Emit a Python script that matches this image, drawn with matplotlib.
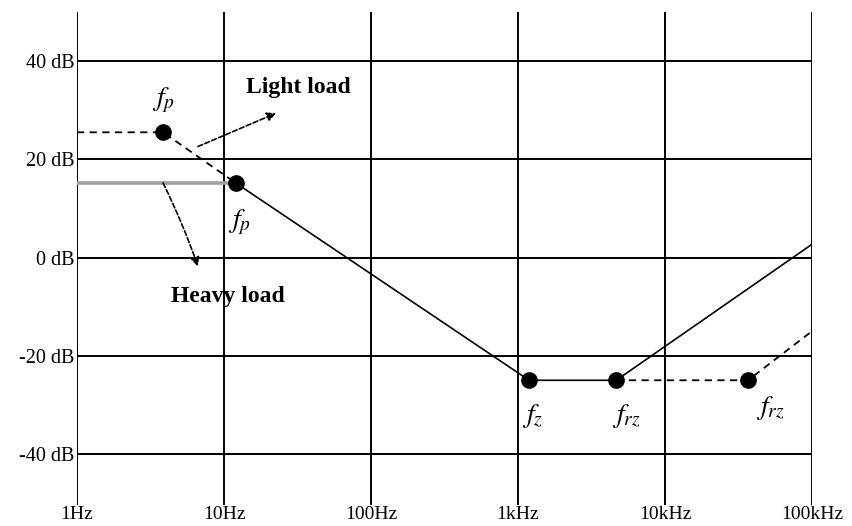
import matplotlib
matplotlib.use("Agg")
import matplotlib.pyplot as plt

plt.rcParams['font.family'] = ['Liberation Serif', 'DejaVu Serif']
plt.rcParams['mathtext.fontset'] = 'stix'

# ---- data ----
x_ticks = [1, 10, 100, 1000, 10000, 100000]
x_labels = ['1Hz', '10Hz', '100Hz', '1kHz', '10kHz', '100kHz']
y_ticks = [40, 20, 0, -20, -40]
y_labels = ['40 dB', '20 dB', '0 dB', '-20 dB', '-40 dB']

light_lf_f = [1, 3.85, 12.0]
light_lf_db = [25.5, 25.5, 15.2]
heavy_flat_f = [1, 12.0]
heavy_flat_db = [15.2, 15.2]
main_f = [12.0, 1190, 4660, 100000]
main_db = [15.2, -25, -25, 2.7]
light_hf_f = [4660, 36700, 100000]
light_hf_db = [-25, -25, -15]
pts_f = [3.85, 12.0, 1190, 4660, 36700]
pts_db = [25.5, 15.2, -25, -25, -25]
pt_labels = [r'$f_p$', r'$f_p$', r'$f_z$', r'$f_{rz}$', r'$f_{rz}$']

fig = plt.figure(figsize=(8.52, 5.26), dpi=100)
ax = fig.add_axes([77/852, 1-505/526, (812-77)/852, (505-12)/526])
ax.set_xscale('log')
ax.set_xlim(1, 100000)
ax.set_ylim(-50.4, 50)

for s in ax.spines.values():
    s.set_visible(False)
ax.set_xticks(x_ticks)
ax.set_xticklabels(x_labels, fontsize=14)
ax.set_yticks(y_ticks)
ax.set_yticklabels(y_labels, fontsize=14.5)
ax.minorticks_off()
ax.tick_params(length=0, pad=2)
ax.tick_params(axis='x', pad=1)
for v in x_ticks:
    ax.axvline(v, color='black', lw=1.4, zorder=1)
for v in y_ticks:
    ax.axhline(v, color='black', lw=1.4, zorder=1)

ax.plot(heavy_flat_f, heavy_flat_db, color='#a0a0a0', lw=2.6, zorder=2)
ax.plot(light_lf_f, light_lf_db, color='black', lw=1.3, ls=(0, (4, 3)), zorder=3)
ax.plot(main_f, main_db, color='black', lw=1.2, zorder=3)
ax.plot(light_hf_f, light_hf_db, color='black', lw=1.3, ls=(0, (4, 3)), zorder=3)
ax.plot(pts_f, pts_db, 'o', color='black', ms=11, zorder=4)

label_pos = [(3.85, 32.0), (12.8, 7.2), (1260, -32.2), (5500, -32.2), (51800, -30.6)]
for (lx, ly), t in zip(label_pos, pt_labels):
    ax.text(lx, ly, t, fontsize=20, ha='center', va='center', zorder=5)

ax.text(31.9, 34.6, 'Light load', fontsize=17, fontweight='bold', ha='center', va='center')
ax.text(10.6, -7.9, 'Heavy load', fontsize=17, fontweight='bold', ha='center', va='center')

ax.annotate('', xy=(22.6, 29.4), xytext=(6.65, 22.6),
            arrowprops=dict(arrowstyle='-|>', color='black', lw=1.2, ls=(0, (3, 1.5)),
                            mutation_scale=13, shrinkA=0, shrinkB=0))
ax.annotate('', xy=(6.65, -1.8), xytext=(3.85, 15.2),
            arrowprops=dict(arrowstyle='-|>', color='black', lw=1.2, ls=(0, (3, 1.5)),
                            mutation_scale=13, shrinkA=0, shrinkB=0,
                            connectionstyle='arc3,rad=-0.03'))

fig.savefig('out.png', dpi=100)
